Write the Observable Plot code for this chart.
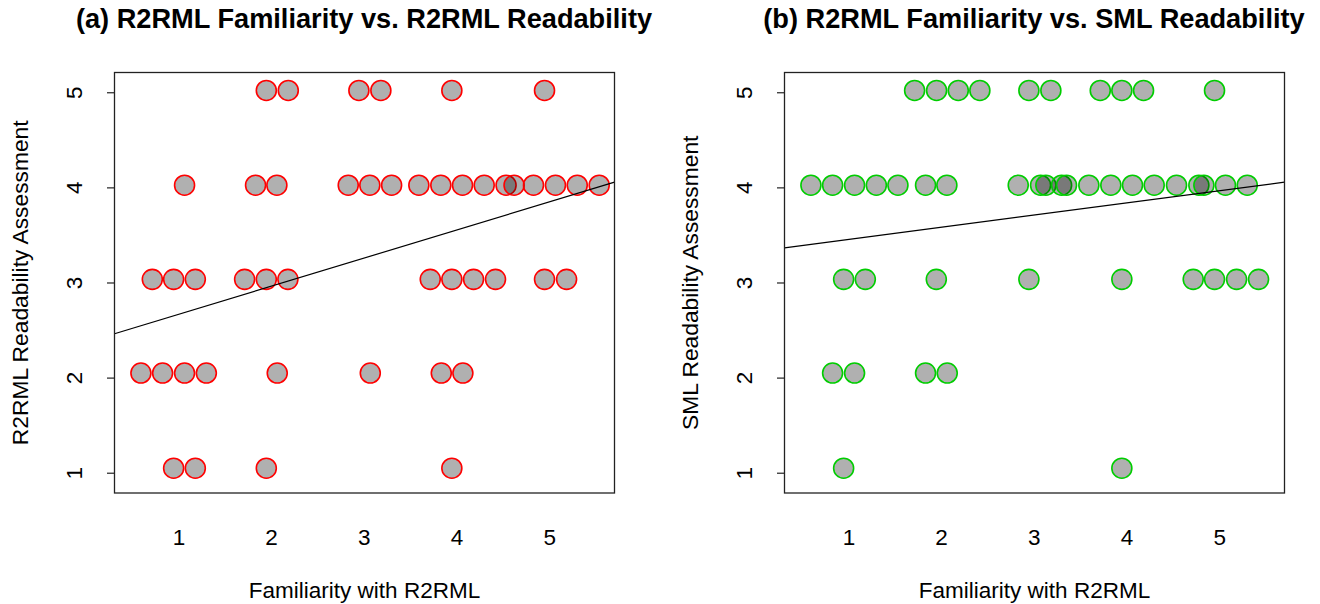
<!DOCTYPE html>
<html><head><meta charset="utf-8">
<script src="https://cdn.jsdelivr.net/npm/d3@7"></script>
<script src="https://cdn.jsdelivr.net/npm/@observablehq/plot@0.6"></script>
<style>
body{margin:0;background:#fff;font-family:"Liberation Sans",Arial,Helvetica,sans-serif;}
#wrap{display:flex;width:1320px;}
.panel{width:660px;position:relative;}
.title{height:40px;position:relative;}
.title span{position:absolute;top:5px;transform:translateX(-50%);font-weight:bold;font-size:27.2px;line-height:27.2px;white-space:nowrap;color:#000;}
svg{display:block}
</style></head><body><div id="wrap"></div>
<script>
// ---- tick labels ----
const familiarityTicks = [1, 2, 3, 4, 5];
const ratingTicks = [1, 2, 3, 4, 5];
// vertical centre of the point rows (rating 1..5)
const rowY = [1.053, 2.053, 3.038, 4.028, 5.024];

// ---- panel (a): Familiarity (swarm-offset x) per R2RML readability rating ----
const aRating5 = [1.943, 2.180, 2.942, 3.179, 3.945, 4.945];
const aRating4 = [1.061, 1.827, 2.057, 2.827, 3.060, 3.295, 3.589, 3.826, 4.060, 4.294, 4.530, 4.616, 4.826, 5.063, 5.298, 5.535];
const aRating3 = [0.713, 0.943, 1.177, 1.709, 1.943, 2.176, 3.712, 3.945, 4.179, 4.416, 4.945, 5.183];
const aRating2 = [0.590, 0.824, 1.061, 1.296, 2.061, 3.065, 3.831, 4.064];
const aRating1 = [0.943, 1.177, 1.943, 3.945];
const aFit = {intercept: 2.376, slope: 0.2955};

// ---- panel (b): Familiarity (swarm-offset x) per SML readability rating ----
const bRating5 = [1.709, 1.946, 2.180, 2.413, 2.942, 3.179, 3.712, 3.945, 4.179, 4.945];
const bRating4 = [0.590, 0.824, 1.061, 1.296, 1.529, 1.827, 2.057, 2.827, 3.068, 3.125, 3.295, 3.348, 3.589, 3.826, 4.060, 4.294, 4.535, 4.776, 4.830, 5.063, 5.298];
const bRating3 = [0.943, 1.177, 1.943, 2.942, 3.945, 4.715, 4.945, 5.183, 5.420];
const bRating2 = [0.824, 1.061, 1.827, 2.061];
const bRating1 = [0.943, 3.945];
const bFit = {intercept: 3.331, slope: 0.1279};

const xDomain = [0.305, 5.70];
const yDomain = [0.792, 5.213];

function table(rows) {
  return rows.flatMap(([r, xs]) => xs.map(x => ({x, y: rowY[r - 1], rating: r})));
}

function panel({title, rows, color, ylabel, fit, marginLeft, marginRight}) {
  const div = document.createElement("div");
  div.className = "panel";
  const t = document.createElement("div");
  t.className = "title";
  const s = document.createElement("span");
  s.textContent = title;
  s.style.left = (marginLeft + (660 - marginLeft - marginRight) / 2) + "px";
  t.appendChild(s);
  div.appendChild(t);
  const data = table(rows);
  const svg = Plot.plot({
    width: 660, height: 564,
    marginLeft, marginRight, marginTop: 32, marginBottom: 111.5,
    x: {domain: xDomain},
    y: {domain: yDomain},
    style: {fontFamily: "'Liberation Sans', Arial, sans-serif", fontSize: "22.5px", color: "#000", background: "#fff", overflow: "visible"},
    marks: [
      Plot.axisY(ratingTicks, {tickSize: 7, tickRotate: -90, tickPadding: 26, tickFormat: d3.format("d"), label: null, stroke: "#222", strokeWidth: 1.2, fontSize: 22.5}),
      Plot.axisX(familiarityTicks, {tickSize: 0, tickPadding: 36.5, tickFormat: d3.format("d"), label: null, fontSize: 22.5}),
      Plot.dot(data, {x: "x", y: "y", r: 10, fill: "black", fillOpacity: 0.31, stroke: color, strokeWidth: 1.6}),
      Plot.link([fit], {
        x1: () => xDomain[0], x2: () => xDomain[1],
        y1: d => d.intercept + d.slope * xDomain[0],
        y2: d => d.intercept + d.slope * xDomain[1],
        stroke: "#000", strokeWidth: 1.2
      }),
      Plot.frame({stroke: "#222", strokeWidth: 1.3}),
      Plot.text(["Familiarity with R2RML"], {frameAnchor: "bottom", dy: 104.5, lineAnchor: "bottom", textAnchor: "middle", fontSize: 22.5}),
      Plot.text([ylabel], {frameAnchor: "left", dx: -87, rotate: -90, lineAnchor: "bottom", textAnchor: "middle", fontSize: 22.8})
    ]
  });
  div.appendChild(svg);
  return div;
}

const wrap = document.getElementById("wrap");
wrap.appendChild(panel({
  title: "(a) R2RML Familiarity vs. R2RML Readability",
  rows: [[5, aRating5], [4, aRating4], [3, aRating3], [2, aRating2], [1, aRating1]],
  color: "#ff0000", ylabel: "R2RML Readability Assessment", fit: aFit,
  marginLeft: 114, marginRight: 46
}));
wrap.appendChild(panel({
  title: "(b) R2RML Familiarity vs. SML Readability",
  rows: [[5, bRating5], [4, bRating4], [3, bRating3], [2, bRating2], [1, bRating1]],
  color: "#00cd00", ylabel: "SML Readability Assessment", fit: bFit,
  marginLeft: 124, marginRight: 36
}));
</script>
</body></html>
